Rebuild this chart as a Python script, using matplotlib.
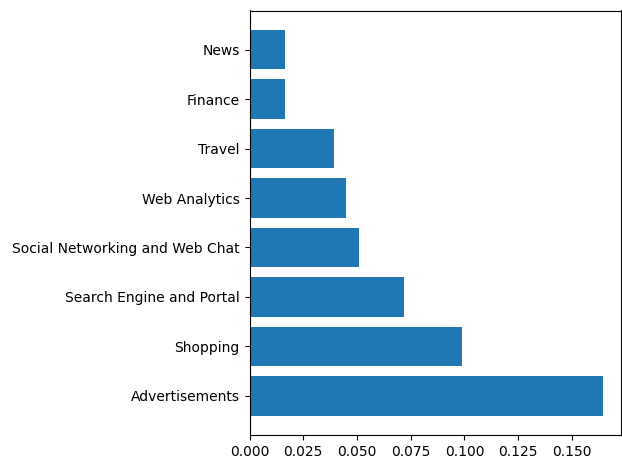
import matplotlib
matplotlib.use("Agg")
import matplotlib.pyplot as plt

# share of traffic per site category
categories = ["Advertisements", "Shopping", "Search Engine and Portal",
              "Social Networking and Web Chat", "Web Analytics", "Travel",
              "Finance", "News"]
shares = [0.1646, 0.0987, 0.0717, 0.0508, 0.0448, 0.0392, 0.0164, 0.0164]

fig, ax = plt.subplots(figsize=(6.22, 4.59), dpi=100)
ax.barh(categories, shares)
fig.subplots_adjust(left=249.5 / 622, right=621 / 622,
                    top=1 - 10.5 / 459, bottom=1 - 435 / 459)
fig.savefig("out.png")
